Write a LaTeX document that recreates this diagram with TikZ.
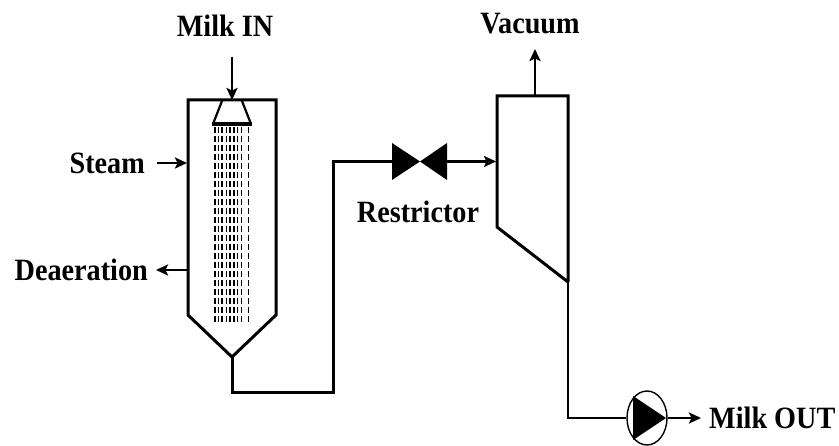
\documentclass[tikz,border=0pt]{standalone}
\usepackage{fontspec}
\setmainfont{Liberation Serif}
\usetikzlibrary{arrows.meta,shapes.geometric}
\begin{document}
\begin{tikzpicture}[x=1pt,y=-1pt,
  wall/.style={line width=3pt, line join=miter},
  pipe/.style={line width=2.4pt},
  flow/.style={line width=2.5pt,-{Stealth[length=12pt,width=11pt,inset=2.5pt]}},
  lbl/.style={font=\fontsize{31}{33}\selectfont\bfseries, inner sep=0pt, xscale=0.91, transform shape},
  spray/.style={line width=1.5pt, dash pattern=on 6pt off 3pt}]
\useasboundingbox (0,0) rectangle (839,446);
\fill[white] (0,0) rectangle (839,446);

% labels
\node[lbl] (milkin) at (225,26) {Milk IN};
\node[lbl] (vac) at (530,24) {Vacuum};
\node[lbl,anchor=east] (steam) at (145,163) {Steam};
\node[lbl,anchor=east] (deaer) at (148,270) {Deaeration};
\node[lbl] (restr) at (418,212) {Restrictor};
\node[lbl,anchor=west] (milkout) at (709,418) {Milk OUT};

% named points
\coordinate (nzt) at (232,100);
\coordinate (milksrc) at (232,57);
\coordinate (apex) at (232,357);
\coordinate (steamin) at (187,163);
\coordinate (steamsrc) at (157,163);
\coordinate (deaerout) at (188,270);
\coordinate (deaertip) at (156,270);
\coordinate (vl) at (392,161.5);
\coordinate (vc) at (420,161.5);
\coordinate (vr) at (447,161.5);
\coordinate (rin) at (496,161.5);
\coordinate (vactop) at (535,96);
\coordinate (vactip) at (535,49);
\coordinate (rbot) at (568,282);
\coordinate (outtip) at (701,418);

% left column
\draw[wall] (apex) -- (188,315) -- (188,100) -- (276,100) -- (276,315) -- cycle;
% nozzle
\draw[line width=2.2pt] (222,101) -- (213,124);
\draw[line width=2.2pt] (242,101) -- (251,124);
\draw[line width=3.5pt] (212,124) -- (252,124);
% spray
\foreach \x in {215,218.5,222,226.5,230,234,237.5,241.5,248.5}
  \draw[spray] (\x,127) -- (\x,322);

% milk in
\draw[flow] (milksrc) -- (nzt);
% steam / deaeration
\draw[flow] (steamsrc) -- (steamin);
\draw[flow] (deaerout) -- (deaertip);

% pipe from column to valve
\draw[wall] (apex) -- (232,393) -- (333,393) -- (333,161.5) -- (vl);
% valve
\fill (392,143) -- (vc) -- (392,180) -- cycle;
\fill (447,143) -- (vc) -- (447,180) -- cycle;
\draw[flow] (vr) -- (rin);

% right vessel
\draw[wall] (rbot) -- (497,227) -- (497,96) -- (568,96) -- (rbot);
\draw[flow] (vactop) -- (vactip);

% pump
\node[draw, ellipse, line width=1.4pt, minimum width=40pt, minimum height=54pt, inner sep=0pt] (pump) at (647,418) {};
\fill (633,396) -- (666,418) -- (633,440) -- cycle;
\draw[pipe] (rbot) -- (568,418) -- (pump.west);
\draw[flow] (pump.east) -- (outtip);
\end{tikzpicture}
\end{document}
